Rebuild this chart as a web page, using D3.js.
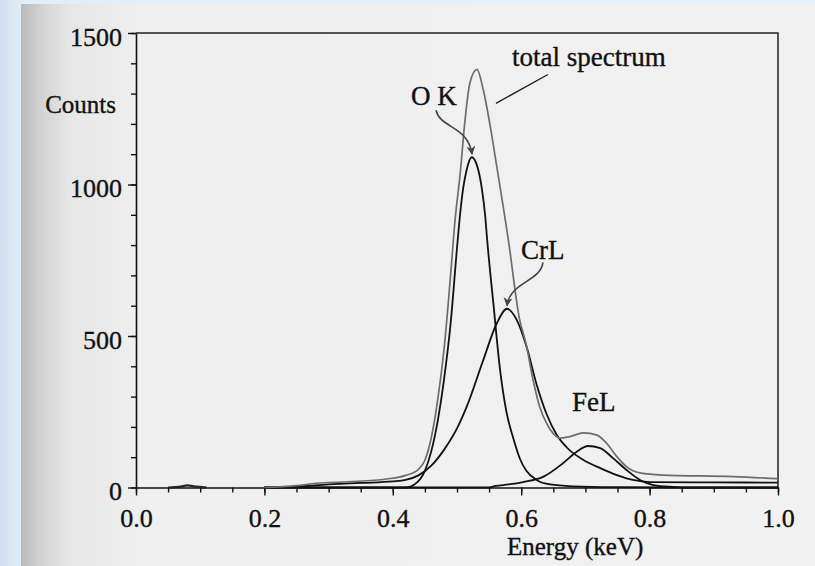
<!DOCTYPE html>
<html>
<head>
<meta charset="utf-8">
<script src="https://cdnjs.cloudflare.com/ajax/libs/d3/7.8.5/d3.min.js"></script>
<style>
  body { margin: 0; background: #dde9f6; }
  svg { display: block; }
  text { font-family: "Liberation Serif", "Times New Roman", serif; fill: #111; stroke: #111; stroke-width: 0.35; }
</style>
</head>
<body>
<script>
// energies (keV) / counts
var totalE = [0.20, 0.25, 0.28, 0.33, 0.39, 0.42, 0.44, 0.45, 0.46, 0.47, 0.48, 0.49, 0.497, 0.505, 0.512, 0.52, 0.531, 0.541, 0.551, 0.562, 0.572, 0.58, 0.597, 0.608, 0.619, 0.629, 0.64, 0.65, 0.66, 0.676, 0.697, 0.718, 0.733, 0.749, 0.764, 0.785, 0.82, 0.93, 1.0];
var totalC = [0, 6, 14, 19, 28, 40, 60, 90, 165, 290, 460, 700, 883, 1037, 1202, 1334, 1380, 1312, 1202, 1059, 927, 817, 560, 470, 350, 265, 210, 178, 163, 168, 180, 173, 146, 102, 69, 48, 41, 36, 29];

var okE = [0.20, 0.42, 0.435, 0.45, 0.46, 0.47, 0.48, 0.49, 0.50, 0.505, 0.51, 0.515, 0.523, 0.531, 0.539, 0.544, 0.547, 0.557, 0.567, 0.577, 0.588, 0.598, 0.608, 0.624, 0.645, 0.68, 0.75, 0.85, 1.0];
var okC = [0, 0, 12, 55, 120, 220, 360, 540, 790, 906, 993, 1048, 1090, 1064, 982, 894, 817, 600, 390, 250, 160, 95, 55, 25, 10, 4, 1, 0, 0];

var crE = [0.20, 0.25, 0.30, 0.35, 0.40, 0.42, 0.44, 0.46, 0.48, 0.50, 0.515, 0.54, 0.562, 0.578, 0.593, 0.609, 0.624, 0.64, 0.655, 0.671, 0.697, 0.723, 0.749, 0.774, 0.80, 0.90, 1.0];
var crC = [0, 3, 10, 15, 20, 25, 40, 72, 125, 195, 266, 415, 542, 590, 553, 460, 340, 240, 175, 132, 91, 64, 41, 25, 18, 17, 16];

var feE = [0.20, 0.55, 0.56, 0.58, 0.603, 0.634, 0.665, 0.686, 0.704, 0.723, 0.743, 0.764, 0.785, 0.806, 0.836, 0.86, 1.0];
var feC = [0, 0, 5, 10, 18, 35, 80, 117, 137, 130, 97, 58, 25, 8, 2, 0, 0];

var lowE = [0.05, 0.07, 0.08, 0.09, 0.11];
var lowC = [0, 3, 7, 4, 0];

var xTicks = [0, 0.2, 0.4, 0.6, 0.8, 1.0];
var yTicks = [0, 500, 1000, 1500];

var W = 815, H = 566;

var svg = d3.select('body').append('svg')
  .attr('width', W)
  .attr('height', H);

var defs = svg.append('defs');

// blue margin of the slide
var blue = defs.append('linearGradient').attr('id', 'blue')
  .attr('x1', 0).attr('x2', 1).attr('y1', 0).attr('y2', 0);
blue.append('stop').attr('offset', 0).attr('stop-color', '#cfe0f2');
blue.append('stop').attr('offset', 0.03).attr('stop-color', '#e2edf8');
blue.append('stop').attr('offset', 1).attr('stop-color', '#e6f0fa');

// scanned page, darker towards the binding
var page = defs.append('linearGradient').attr('id', 'page')
  .attr('x1', 0).attr('x2', 1).attr('y1', 0).attr('y2', 0);
page.append('stop').attr('offset', 0).attr('stop-color', '#b9b9b9');
page.append('stop').attr('offset', 0.025).attr('stop-color', '#d2d2d2');
page.append('stop').attr('offset', 0.06).attr('stop-color', '#e6e6e6');
page.append('stop').attr('offset', 0.15).attr('stop-color', '#efefef');
page.append('stop').attr('offset', 1).attr('stop-color', '#f1f1f1');

defs.append('marker')
  .attr('id', 'arrow')
  .attr('viewBox', '0 0 10 10')
  .attr('refX', 9).attr('refY', 5)
  .attr('markerWidth', 10).attr('markerHeight', 9)
  .attr('markerUnits', 'userSpaceOnUse')
  .attr('orient', 'auto')
  .append('path')
  .attr('d', 'M0,0 L10,5 L0,10 L3,5 Z')
  .attr('fill', '#444');

svg.append('rect').attr('width', W).attr('height', H).attr('fill', 'url(#blue)');
svg.append('rect').attr('x', 21).attr('y', 4).attr('width', W - 21).attr('height', H - 4)
  .attr('fill', 'url(#page)');

var x = d3.scaleLinear().domain([0, 1]).range([136, 778]);
var y = d3.scaleLinear().domain([0, 1500]).range([487.5, 33]);

// frame (top and right)
svg.append('path')
  .attr('d', 'M' + x(0) + ',' + y(1500) + 'H' + x(1) + 'V' + y(0))
  .attr('fill', 'none')
  .attr('stroke', '#222')
  .attr('stroke-width', 1.5);

// minor ticks
svg.append('g')
  .attr('transform', 'translate(0,' + y(0) + ')')
  .call(d3.axisBottom(x).tickValues(d3.range(0, 1.001, 0.05)).tickSize(5).tickFormat(''))
  .call(function(g) { g.select('.domain').remove(); });
svg.append('g')
  .attr('transform', 'translate(' + x(0) + ',0)')
  .call(d3.axisLeft(y).tickValues(d3.range(0, 1501, 100)).tickSize(5).tickFormat(''))
  .call(function(g) { g.select('.domain').remove(); });

var xAxis = svg.append('g')
  .attr('transform', 'translate(0,' + y(0) + ')')
  .call(d3.axisBottom(x).tickValues(xTicks).tickSize(8).tickPadding(13).tickSizeOuter(0).tickFormat(d3.format('.1f')));

var yAxis = svg.append('g')
  .attr('transform', 'translate(' + x(0) + ',0)')
  .call(d3.axisLeft(y).tickValues(yTicks).tickSize(8).tickPadding(6).tickSizeOuter(0).tickFormat(d3.format('d')));

svg.selectAll('.tick line').attr('stroke', '#111').attr('stroke-width', 1.4);
svg.selectAll('.domain').attr('stroke', '#111').attr('stroke-width', 1.6);
xAxis.selectAll('text').attr('font-size', 26).attr('font-family', '"Liberation Serif", serif').attr('fill', '#111');
yAxis.selectAll('text').attr('font-size', 26).attr('font-family', '"Liberation Serif", serif').attr('fill', '#111')
  .attr('dy', '0.48em');

svg.append('text')
  .attr('x', 116).attr('y', 113)
  .attr('text-anchor', 'end')
  .attr('font-size', 25)
  .text('Counts');

svg.append('text')
  .attr('x', 507).attr('y', 555)
  .attr('font-size', 25)
  .text('Energy (keV)');

// curves
var line = d3.line()
  .x(function(d) { return x(d[0]); })
  .y(function(d) { return y(d[1]); })
  .curve(d3.curveMonotoneX);

function pairs(es, cs) {
  return es.map(function(e, i) { return [e, cs[i]]; });
}

var curves = [
  { data: pairs(lowE, lowC), color: '#222', w: 2.2 },
  { data: pairs(feE, feC), color: '#111', w: 1.8 },
  { data: pairs(crE, crC), color: '#111', w: 1.8 },
  { data: pairs(okE, okC), color: '#111', w: 1.8 },
  { data: pairs(totalE, totalC), color: '#6c6c6c', w: 1.7 }
];

svg.selectAll('path.curve')
  .data(curves)
  .enter().append('path')
  .attr('class', 'curve')
  .attr('d', function(d) { return line(d.data); })
  .attr('fill', 'none')
  .attr('stroke', function(d) { return d.color; })
  .attr('stroke-width', function(d) { return d.w; })
  .attr('stroke-linejoin', 'round');

// labels, placed in data coordinates
var labelText = ['total spectrum', 'O K', 'CrL', 'FeL'];
var labelE = [0.5857, 0.4283, 0.5997, 0.679];
var labelC = [1392, 1262, 754, 252];

svg.selectAll('text.lab')
  .data(labelText)
  .enter().append('text')
  .attr('class', 'lab')
  .attr('x', function(d, i) { return x(labelE[i]); })
  .attr('y', function(d, i) { return y(labelC[i]); })
  .attr('font-size', 27)
  .text(function(d) { return d; });

// pointer for total spectrum
svg.append('line')
  .attr('x1', x(0.6417)).attr('y1', y(1363))
  .attr('x2', x(0.5607)).attr('y2', y(1268))
  .attr('stroke', '#222')
  .attr('stroke-width', 1.4);

// curved arrows for O K and CrL
function arrowPath(p) {
  var pth = d3.path();
  pth.moveTo(x(p[0][0]), y(p[0][1]));
  pth.bezierCurveTo(x(p[1][0]), y(p[1][1]), x(p[2][0]), y(p[2][1]), x(p[3][0]), y(p[3][1]));
  return pth.toString();
}

var arrows = [
  [[0.4673, 1245], [0.4735, 1185], [0.5171, 1195], [0.5234, 1100]],
  [[0.634, 743], [0.6293, 677], [0.5826, 680], [0.5779, 600]]
];

svg.selectAll('path.arrow')
  .data(arrows)
  .enter().append('path')
  .attr('class', 'arrow')
  .attr('d', arrowPath)
  .attr('fill', 'none')
  .attr('stroke', '#444')
  .attr('stroke-width', 1.6)
  .attr('marker-end', 'url(#arrow)');
</script>
</body>
</html>
